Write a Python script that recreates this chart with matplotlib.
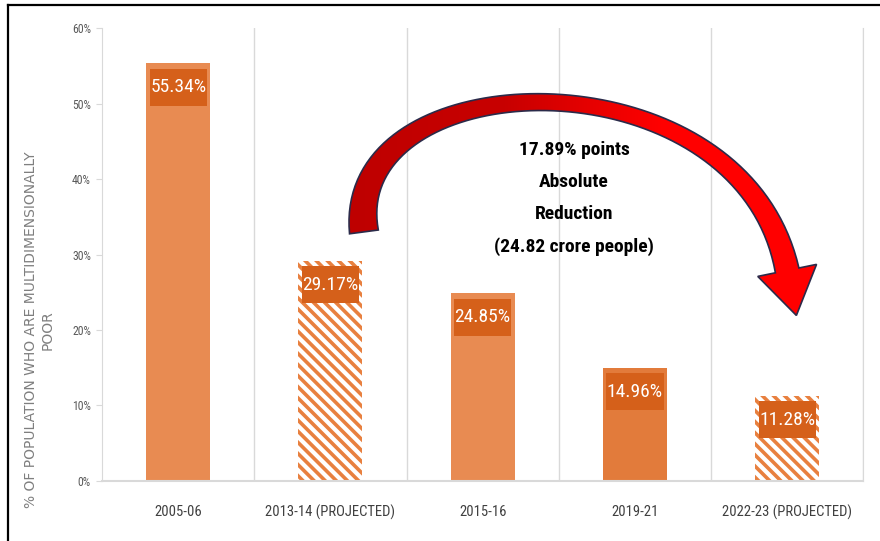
import numpy as np
import matplotlib
matplotlib.use('Agg')
import matplotlib.pyplot as plt
from matplotlib import font_manager as fm
from matplotlib.patches import Polygon, Rectangle
from matplotlib.colors import LinearSegmentedColormap
from matplotlib.lines import Line2D

years = ['2005-06', '2013-14 (PROJECTED)', '2015-16', '2019-21', '2022-23 (PROJECTED)']
poor_pct = [55.34, 29.17, 24.85, 14.96, 11.28]
projected = [False, True, False, False, True]
bar_colors = ['#E88B52', '#E8803F', '#E88B52', '#E27B3B', '#E8803F']
note = '17.89% points\nAbsolute\nReduction\n(24.82 crore people)'


def pick_font(names):
    for n in names:
        try:
            fm.findfont(fm.FontProperties(family=n), fallback_to_default=False)
            return n
        except Exception:
            pass
    return 'DejaVu Sans'


narrow = pick_font(['Liberation Sans Narrow', 'Roboto Condensed', 'Open Sans Condensed',
                    'Liberation Sans'])
plt.rcParams['font.family'] = [narrow, 'DejaVu Sans']
plt.rcParams['font.stretch'] = 'condensed'
plt.rcParams['hatch.linewidth'] = 2.6

fig = plt.figure(figsize=(8.8, 5.41), dpi=100)
ax = fig.add_axes([0.116, 0.111, 0.865, 0.837])
x = np.arange(len(years))

for i in range(len(years)):
    if projected[i]:
        ax.bar(x[i], poor_pct[i], width=0.42, facecolor='white',
               edgecolor=bar_colors[i], hatch='\\\\\\', linewidth=0, zorder=2)
    else:
        ax.bar(x[i], poor_pct[i], width=0.42, color=bar_colors[i], zorder=2)
    # label box just under the top of each bar
    box_top = poor_pct[i] - 0.7
    ax.add_patch(Rectangle((x[i] - 0.188, box_top - 4.9), 0.376, 4.9,
                           fc='#D5601A', ec='none', zorder=4))
    ax.text(x[i], box_top - 2.45, '%.2f%%' % poor_pct[i], ha='center', va='center',
            color='white', fontsize=14, zorder=5)

ax.set_xlim(-0.5, 4.5)
ax.set_ylim(0, 60)
ax.set_xticks(x)
ax.set_xticklabels(years, fontsize=10.5, color='#404040')
ax.tick_params(axis='x', length=0, pad=17)
ax.set_yticks(np.arange(0, 61, 10))
ax.set_yticklabels(['%d%%' % v for v in range(0, 61, 10)], fontsize=8.5, color='#595959')
ax.tick_params(axis='y', length=4, color='#D9D9D9', pad=4)
for b in np.arange(0.5, 4.6, 1):
    ax.axvline(b, color='#D9D9D9', lw=1, zorder=1)
ax.spines['top'].set_visible(False)
for s in ['left', 'bottom', 'right']:
    ax.spines[s].set_color('#D9D9D9')
ax.spines['bottom'].set_linewidth(1.5)

fig.text(0.045, 0.39, '% OF POPULATION WHO ARE MULTIDIMENSIONALLY\nPOOR',
         rotation=90, ha='center', va='center', fontsize=10, color='#7F7F7F',
         family=['DejaVu Sans'], fontstretch='normal')

# curved arrow: cubic centre line (data coords), drawn as a polygon in pixels
arrow_ctrl = [(1.22, 33.0), (1.07, 56.0), (3.70, 57.5), (4.0, 27.9)]
P = ax.transData.transform(arrow_ctrl)
t = np.linspace(0, 1, 80)[:, None]
curve = ((1 - t) ** 3 * P[0] + 3 * (1 - t) ** 2 * t * P[1]
         + 3 * (1 - t) * t ** 2 * P[2] + t ** 3 * P[3])
deriv = (3 * (1 - t) ** 2 * (P[1] - P[0]) + 6 * (1 - t) * t * (P[2] - P[1])
         + 3 * t ** 2 * (P[3] - P[2]))
tang = deriv / np.linalg.norm(deriv, axis=1)[:, None]
norm = np.column_stack([-tang[:, 1], tang[:, 0]])
tt = t[:, 0]
width = 29 * (1 - tt) ** 2 + 2 * 7 * tt * (1 - tt) + 24 * tt ** 2
left = curve + norm * width[:, None] / 2
right = curve - norm * width[:, None] / 2
d = tang[-1]
n = norm[-1]
head = [curve[-1] + n * 30, curve[-1] + d * 46, curve[-1] - n * 30]
pts = np.vstack([left, head, right[::-1]])
pts = ax.transData.inverted().transform(pts)
arrow_poly = Polygon(pts, closed=True, fc='none', ec='#2B2B4A', lw=1.2, zorder=3.1)
ax.add_patch(arrow_poly)
red = LinearSegmentedColormap.from_list('red', ['#BE0000', '#C80000', '#FF0000', '#FF0000'])
grad = np.linspace(0, 1, 256)[None, :]
img = ax.imshow(grad, cmap=red, aspect='auto', zorder=3, interpolation='bilinear',
                extent=(pts[:, 0].min(), pts[:, 0].max(), pts[:, 1].min(), pts[:, 1].max()))
img.set_clip_path(arrow_poly)
ax.set_xlim(-0.5, 4.5)
ax.set_ylim(0, 60)

ax.text(2.6, 37.4, note, ha='center', va='center', fontsize=14,
        fontweight='bold', linespacing=2.0, color='black', zorder=5)

# frame lines (top and left)
fig.add_artist(Line2D([8 / 880, 1], [1 - 5 / 541, 1 - 5 / 541], color='black', lw=1.6))
fig.add_artist(Line2D([8 / 880, 8 / 880], [0, 1 - 5 / 541], color='black', lw=1.6))

plt.savefig('out.png', dpi=100)
